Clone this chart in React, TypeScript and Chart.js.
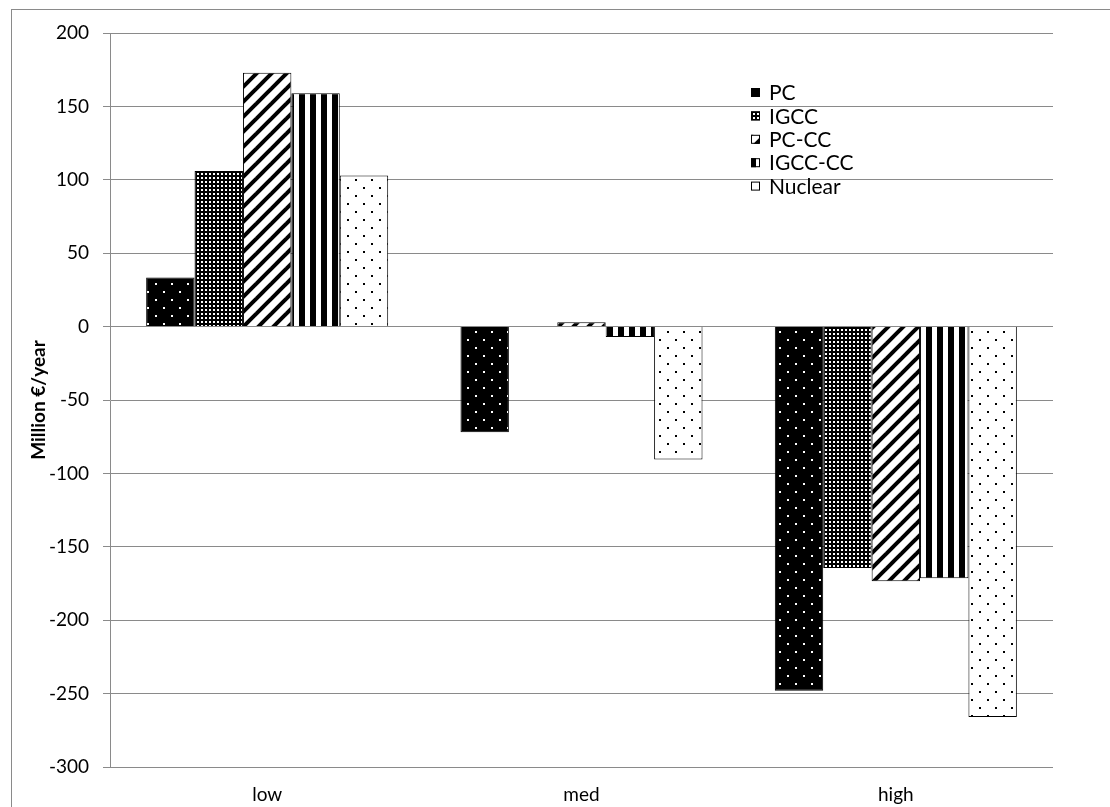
import React, { useEffect, useRef } from "react";
import { Chart, registerables } from "chart.js";

Chart.register(...registerables);

const categories = ["low", "med", "high"];
const seriesNames = ["PC", "IGCC", "PC-CC", "IGCC-CC", "Nuclear"];
const pcValues = [33.5, -72, -248];
const igccValues = [106, 0, -164.5];
const pcccValues = [173, 3, -173.5];
const igccccValues = [159, -7, -171.5];
const nuclearValues = [103, -90.5, -266];
const yTicks = { min: -300, max: 200, step: 50 };
const yTitle = "Million €/year";

const FONT = "Lato, 'Open Sans', sans-serif";
const GRID = "#8a8a8a";

function makePattern(kind: string): CanvasPattern {
  const c = document.createElement("canvas");
  const ctx = c.getContext("2d")!;
  if (kind === "dotsWhiteOnBlack" || kind === "dotsBlackOnWhite") {
    c.width = 16;
    c.height = 16;
    const bg = kind === "dotsWhiteOnBlack" ? "#000" : "#fff";
    const fg = kind === "dotsWhiteOnBlack" ? "#fff" : "#000";
    ctx.fillStyle = bg;
    ctx.fillRect(0, 0, 16, 16);
    ctx.fillStyle = fg;
    ctx.fillRect(3, 3, 2, 2);
    ctx.fillRect(11, 11, 2, 2);
  } else if (kind === "grid") {
    c.width = 4;
    c.height = 4;
    ctx.fillStyle = "#000";
    ctx.fillRect(0, 0, 4, 4);
    ctx.fillStyle = "#fff";
    ctx.fillRect(1, 1, 2, 2);
  } else if (kind === "diag") {
    const s = 15;
    c.width = s;
    c.height = s;
    ctx.fillStyle = "#fff";
    ctx.fillRect(0, 0, s, s);
    ctx.strokeStyle = "#000";
    ctx.lineWidth = 4;
    for (const off of [-s, 0, s]) {
      ctx.beginPath();
      ctx.moveTo(off - 2, s + 2);
      ctx.lineTo(off + s + 2, -2);
      ctx.stroke();
    }
  } else {
    c.width = 11;
    c.height = 2;
    ctx.fillStyle = "#fff";
    ctx.fillRect(0, 0, 11, 2);
    ctx.fillStyle = "#000";
    ctx.fillRect(2, 0, 6, 2);
  }
  return ctx.createPattern(c, "repeat")!;
}

export default function App() {
  const ref = useRef<HTMLCanvasElement | null>(null);

  useEffect(() => {
    if (!ref.current) return;
    const patterns = [
      makePattern("dotsWhiteOnBlack"),
      makePattern("grid"),
      makePattern("diag"),
      makePattern("vert"),
      makePattern("dotsBlackOnWhite"),
    ];
    const values = [pcValues, igccValues, pcccValues, igccccValues, nuclearValues];

    const framePlugin = {
      id: "frame",
      beforeDraw(chart: any) {
        const ctx = chart.ctx;
        ctx.save();
        ctx.fillStyle = "#fff";
        ctx.fillRect(0, 0, chart.width, chart.height);
        ctx.strokeStyle = GRID;
        ctx.lineWidth = 1;
        ctx.strokeRect(11.5, 9.5, 3000, 3000);
        ctx.restore();
      },
    };

    const legendPlugin = {
      id: "customLegend",
      afterDraw(chart: any) {
        const ctx = chart.ctx;
        ctx.save();
        ctx.font = `21px ${FONT}`;
        ctx.textBaseline = "middle";
        ctx.textAlign = "left";
        seriesNames.forEach((name, i) => {
          const y = 92.5 + i * 23.4;
          ctx.fillStyle = patterns[i];
          ctx.fillRect(751, y - 4.5, 9, 9);
          ctx.strokeStyle = "#000";
          ctx.lineWidth = 1;
          ctx.strokeRect(751.5, y - 4, 8, 8);
          ctx.fillStyle = "#000";
          ctx.fillText(name, 769, y + 1);
        });
        ctx.restore();
      },
    };

    const chart = new Chart(ref.current, {
      type: "bar",
      data: {
        labels: categories,
        datasets: seriesNames.map((name, i) => ({
          label: name,
          data: values[i],
          backgroundColor: patterns[i] as any,
          borderColor: "#000",
          borderWidth: 1,
          categoryPercentage: 0.77,
          barPercentage: 1.0,
        })),
      },
      options: {
        animation: false,
        responsive: false,
        devicePixelRatio: 1,
        layout: { padding: { left: 0, top: 33, right: 57, bottom: 0 } },
        plugins: {
          legend: { display: false },
          tooltip: { enabled: false },
        },
        scales: {
          x: {
            grid: { display: false, drawTicks: false },
            border: { display: false },
            ticks: {
              color: "#000",
              font: { family: FONT, size: 19 },
              padding: 16,
            },
            afterFit: (s: any) => {
              s.height = 40;
            },
          },
          y: {
            min: yTicks.min,
            max: yTicks.max,
            ticks: {
              stepSize: yTicks.step,
              color: "#000",
              font: { family: FONT, size: 19 },
              padding: 14,
            },
            grid: { color: GRID, tickLength: 7, lineWidth: 1 },
            border: { color: GRID, width: 1 },
            title: {
              display: true,
              text: yTitle,
              color: "#000",
              font: { family: FONT, size: 19, weight: "bold" },
              padding: { top: 27, bottom: 0 },
            },
            afterFit: (s: any) => {
              s.width = 110;
            },
          },
        },
      },
      plugins: [framePlugin, legendPlugin],
    });
    return () => chart.destroy();
  }, []);

  return (
    <div style={{ position: "fixed", left: 0, top: 0, width: 1110, height: 807, background: "#fff" }}>
      <canvas ref={ref} width={1110} height={807} style={{ display: "block" }} />
    </div>
  );
}
